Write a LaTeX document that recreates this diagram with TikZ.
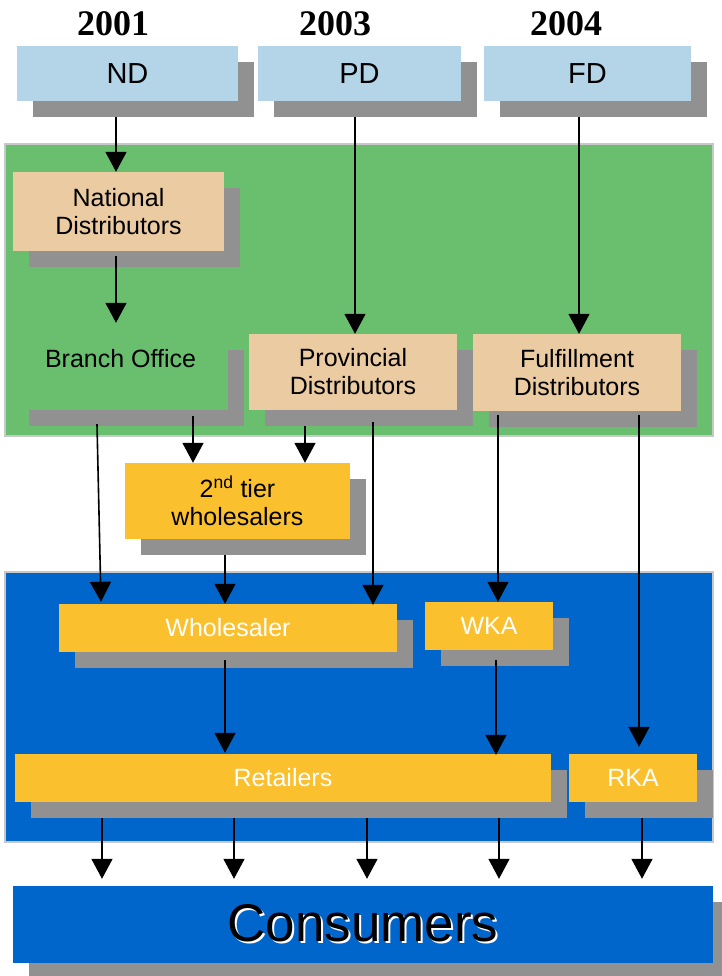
\documentclass[tikz,border=0pt]{standalone}
\usepackage{fontspec}
\setmainfont{Liberation Sans}
\newfontfamily\yearfont{Liberation Serif}
\usetikzlibrary{arrows.meta,shadows,calc}
\definecolor{gbg}{RGB}{106,191,111}
\definecolor{bbg}{RGB}{0,102,204}
\definecolor{tan}{RGB}{235,203,161}
\definecolor{ylw}{RGB}{251,192,46}
\definecolor{lblue}{RGB}{180,212,232}
\definecolor{shdw}{RGB}{145,145,145}
\definecolor{frame}{RGB}{200,200,200}
\begin{document}
\begin{tikzpicture}[x=1pt,y=-1pt,
  box/.style={inner sep=0pt, align=center, font=\fontsize{25}{28}\selectfont,
    drop shadow={shadow xshift=16pt,shadow yshift=-16pt,fill=shdw,opacity=1}},
  topbox/.style={box, fill=lblue, font=\fontsize{29}{29}\selectfont, minimum height=55pt},
  tanbox/.style={box, fill=tan},
  ybox/.style={box, fill=ylw},
  wbox/.style={box, fill=ylw, text=white, minimum height=48pt},
  region/.style={draw=frame, line width=1.5pt, inner sep=0pt},
  year/.style={inner sep=0pt, font=\yearfont\bfseries\fontsize{36}{36}\selectfont},
  arr/.style={line width=1.6pt, -{Triangle[width=21pt,length=20pt]}}]
\useasboundingbox (0,0) rectangle (721,976);

% years
\node[year] (y1) at (113,24) {2001};
\node[year] (y2) at (335,24) {2003};
\node[year] (y3) at (566,24) {2004};

% top boxes
\node[topbox, minimum width=221pt] (ND) at (127.5,73.5) {ND};
\node[topbox, minimum width=203pt] (PD) at (359.5,73.5) {PD};
\node[topbox, minimum width=207pt] (FD) at (587.5,73.5) {FD};

% green region
\node[region, fill=gbg, minimum width=708pt, minimum height=292pt] (grn) at (359,290) {};
\node[tanbox, minimum width=211pt, minimum height=79pt] (Nat) at (118.5,211.5) {National\\Distributors};
\node[box, fill=gbg, minimum width=215pt, minimum height=76pt] (Br) at (120.5,372) {\raisebox{5pt}[0pt][0pt]{Branch Office}};
\node[tanbox, minimum width=208pt, minimum height=76pt] (Prov) at (353,372) {Provincial\\Distributors};
\node[tanbox, minimum width=208pt, minimum height=77pt] (Ful) at (577,372.5) {Fulfillment\\Distributors};

% 2nd tier
\node[ybox, minimum width=225pt, minimum height=76pt] (Tw) at (237.5,501) {2\textsuperscript{nd} tier\\wholesalers};

% blue region
\node[region, fill=bbg, minimum width=708pt, minimum height=270pt] (blu) at (359,707) {};
\node[wbox, minimum width=338pt] (Whl) at (228,628) {Wholesaler};
\node[wbox, minimum width=128pt] (WKA) at (489,626) {WKA};
\node[wbox, minimum width=536pt] (Ret) at (283,778) {Retailers};
\node[wbox, minimum width=128pt] (RKA) at (633,778) {RKA};

% consumers
\node[box, fill=bbg, minimum width=700pt, minimum height=77pt, font=\fontsize{53}{53}\selectfont] (Cons) at (363,924.5)
  {\rlap{\kern2pt\raisebox{-2pt}{\color{white}Consumers}}Consumers};

% arrows
\draw[arr] ($(ND.south)+(-11.5,16)$) -- ($(Nat.north)+(-2.5,0)$);
\draw[arr] ($(Nat.south)+(-2.5,5)$) -- ($(Br.north)+(-4.5,-11)$);
\draw[arr] ($(PD.south)+(-4.5,16)$) -- ($(Prov.north)+(2,0)$);
\draw[arr] ($(FD.south)+(-8.5,16)$) -- ($(Ful.north)+(2,0)$);
\draw[arr] ($(Br.south)+(-23.5,14)$) -- ($(Whl.north)+(-127,-2)$);
\draw[arr] ($(Br.south)+(72.5,6)$) -- ($(Tw.north)+(-44.5,0)$);
\draw[arr] ($(Prov.south)+(-48,16)$) -- ($(Tw.north)+(67.5,0)$);
\draw[arr] ($(Prov.south)+(20,12)$) -- ($(Whl.north)+(145,1)$);
\draw[arr] ($(Tw.south)+(-12.5,16)$) -- ($(Whl.north)+(-3,0)$);
\draw[arr] ($(Ful.south)+(-79,4)$) -- ($(WKA.north)+(9,0)$);
\draw[arr] ($(Ful.south)+(62,4)$) -- ($(RKA.north)+(6,-7)$);
\draw[arr] ($(WKA.south)+(7,10)$) -- ($(Ret.north)+(213,1)$);
\draw[arr] ($(Whl.south)+(-3,8)$) -- ($(Ret.north)+(-58,-1)$);
\foreach \a/\b in {-181/-261,-49/-129,84/4,216/136}
  \draw[arr] ($(Ret.south)+(\a,16)$) -- ($(Cons.north)+(\b,-7)$);
\draw[arr] ($(RKA.south)+(9,16)$) -- ($(Cons.north)+(279,-7)$);
\end{tikzpicture}
\end{document}
